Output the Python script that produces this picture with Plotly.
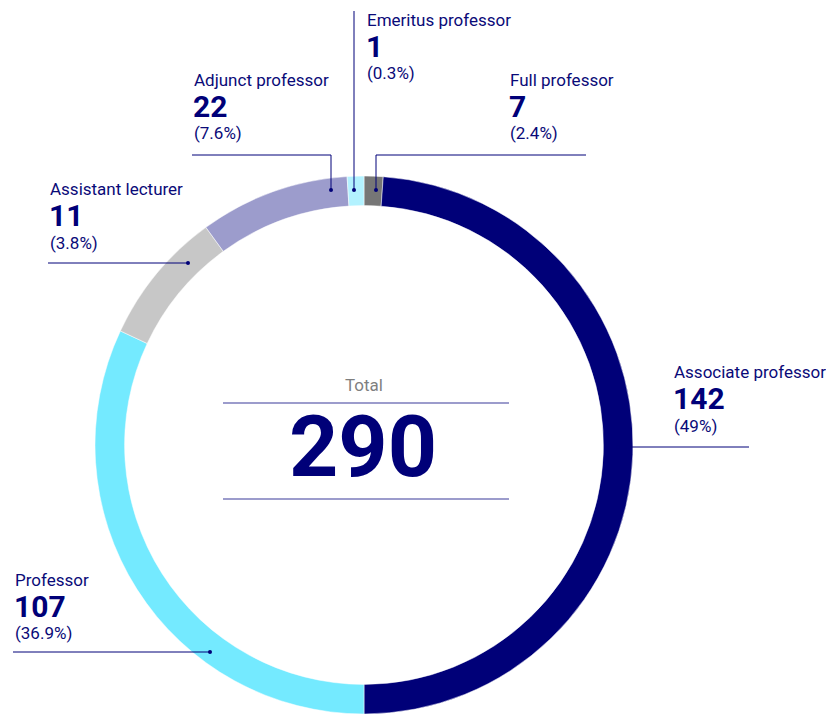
import plotly.graph_objects as go

W, H = 826, 714

# ---- data ----
categories = ["Full professor", "Associate professor", "Professor",
              "Assistant lecturer", "Adjunct professor", "Emeritus professor"]
counts = [7, 142, 107, 11, 22, 1]
pct_labels = ["(2.4%)", "(49%)", "(36.9%)", "(3.8%)", "(7.6%)", "(0.3%)"]
# slice sizes as drawn in the reference ring (% of ring)
ring_share = [1.14, 48.86, 31.97, 8.03, 9.00, 1.00]
total_value = 290
colors = ["#767676", "#000078", "#74EAFF", "#C7C7C7", "#9C9CCC", "#B3F2FF"]

NAVY = "#0a0a78"
LINE_NAVY = "#000078"
LAV = "#7b7bbb"

# ---- layout geometry (pixels) ----
cx, cy, R = 364, 445, 269


def px(x):
    return x / W


def py(y):
    return 1 - y / H


fig = go.Figure(go.Pie(
    labels=categories,
    values=ring_share,
    sort=False,
    direction="clockwise",
    rotation=0,
    hole=0.89,
    textinfo="none",
    hoverinfo="skip",
    marker=dict(colors=colors, line=dict(color="white", width=0.5)),
    domain=dict(x=[px(cx - R), px(cx + R)], y=[py(cy + R), py(cy - R)]),
    showlegend=False,
))

# callout layout: label left x, name cap-centre y, leader path points (pixels)
callouts = {
    "Full professor": dict(x=508, y=79.5, path=[(376, 190), (376, 155), (586, 155)]),
    "Associate professor": dict(x=672, y=372, path=[(618, 447), (749, 447)]),
    "Professor": dict(x=13, y=579.5, path=[(210, 652), (13, 652)]),
    "Assistant lecturer": dict(x=48, y=189, path=[(188, 263), (48, 263)]),
    "Adjunct professor": dict(x=192, y=79.5, path=[(331, 190), (331, 155), (192, 155)]),
    "Emeritus professor": dict(x=365, y=20, path=[(354, 190), (354, 11)]),
}

annotations = []
shapes = []
for name, cnt, pct in zip(categories, counts, pct_labels):
    c = callouts[name]
    annotations.append(dict(x=px(c["x"]), y=py(c["y"]), xref="paper", yref="paper",
                            text=name, showarrow=False, xanchor="left", yanchor="middle",
                            font=dict(family="Roboto", size=17, color=NAVY)))
    annotations.append(dict(x=px(c["x"] - 1), y=py(c["y"] + 26.5), xref="paper", yref="paper",
                            text=f"<b>{cnt}</b>", showarrow=False, xanchor="left", yanchor="middle",
                            font=dict(family="Roboto", size=30, color=LINE_NAVY)))
    annotations.append(dict(x=px(c["x"]), y=py(c["y"] + 53.5), xref="paper", yref="paper",
                            text=pct, showarrow=False, xanchor="left", yanchor="middle",
                            font=dict(family="Roboto", size=17, color=NAVY)))
    pts = c["path"]
    for (x0, y0), (x1, y1) in zip(pts[:-1], pts[1:]):
        shapes.append(dict(type="line", xref="paper", yref="paper",
                           x0=px(x0), y0=py(y0), x1=px(x1), y1=py(y1),
                           line=dict(color=LINE_NAVY, width=1)))
    dx, dy = pts[0]
    shapes.append(dict(type="circle", xref="paper", yref="paper",
                       x0=px(dx - 2), x1=px(dx + 2), y0=py(dy + 2), y1=py(dy - 2),
                       fillcolor=LINE_NAVY, line=dict(width=0)))

# centre total
annotations.append(dict(x=px(364), y=py(384.5), xref="paper", yref="paper", text="Total",
                        showarrow=False, xanchor="center", yanchor="middle",
                        font=dict(family="Roboto", size=17, color="#7f7f7f")))
annotations.append(dict(x=px(363), y=py(446.5), xref="paper", yref="paper",
                        text=f"<b>{total_value}</b>", showarrow=False,
                        xanchor="center", yanchor="middle",
                        font=dict(family="Roboto", size=86, color=LINE_NAVY)))
for yy in (403, 499):
    shapes.append(dict(type="line", xref="paper", yref="paper",
                       x0=px(223), x1=px(509), y0=py(yy), y1=py(yy),
                       line=dict(color=LAV, width=1.5)))

fig.update_layout(
    width=W, height=H,
    margin=dict(l=0, r=0, t=0, b=0),
    paper_bgcolor="white", plot_bgcolor="white",
    annotations=annotations, shapes=shapes,
)

fig.write_html("out.html", config={"displayModeBar": False},
               post_script="document.body.style.margin='0';document.body.style.overflow='hidden';")
